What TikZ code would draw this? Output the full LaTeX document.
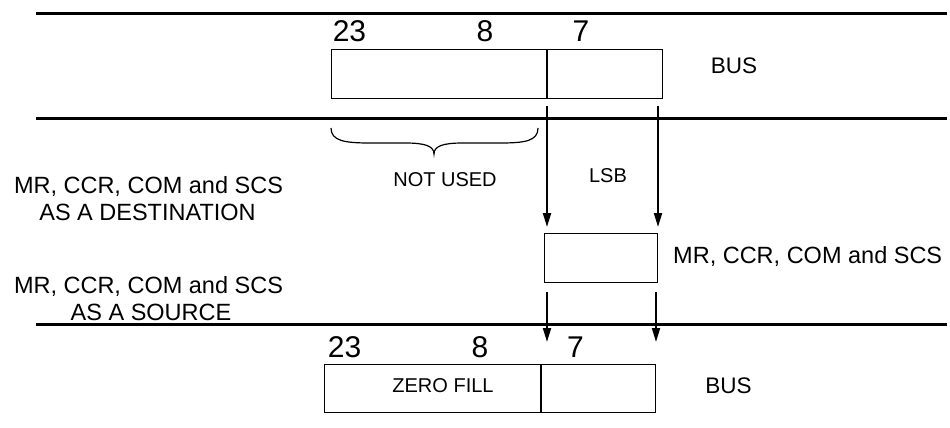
\documentclass[tikz,border=0pt]{standalone}
\usepackage{fontspec}
\setmainfont{Liberation Sans}
\usetikzlibrary{arrows.meta}
\begin{document}
\begin{tikzpicture}[x=1pt,y=-1pt,
  busline/.style={line width=3pt},
  regbox/.style={draw, line width=1.3pt, inner sep=0pt},
  divider/.style={line width=2pt},
  flow/.style={line width=2pt, -{Triangle[length=14pt,width=8pt]}},
  numlbl/.style={anchor=base, inner sep=0pt, font=\fontsize{30}{32}\selectfont},
  biglbl/.style={anchor=base, inner sep=0pt, font=\fontsize{23.5}{27}\selectfont},
  buslbl/.style={anchor=base, inner sep=0pt, font=\fontsize{22.5}{26}\selectfont},
  smalllbl/.style={anchor=base, inner sep=0pt, font=\fontsize{20}{23}\selectfont},
  bracepath/.style={line width=1.2pt}
]
\useasboundingbox (0,0) rectangle (950,428);

% bus lines
\coordinate (l1a) at (36,14);  \coordinate (l1b) at (947,14);
\coordinate (l2a) at (36,118); \coordinate (l2b) at (947,118);
\coordinate (l3a) at (36,324); \coordinate (l3b) at (947,324);
\draw[busline] (l1a) -- (l1b);
\draw[busline] (l2a) -- (l2b);
\draw[busline] (l3a) -- (l3b);

% top register
\node[regbox, minimum width=331pt, minimum height=49pt, anchor=north west] (top) at (331,49) {};
\coordinate (topdivT) at (547,49); \coordinate (topdivB) at (547,98);
\draw[divider] (topdivT) -- (topdivB);
\node[numlbl] (t23) at (349.5,42) {23};
\node[numlbl] (t8) at (485,42) {8};
\node[numlbl] (t7) at (581,42) {7};
\node[buslbl] (tbus) at (734,74) {BUS};

% brace
\coordinate (brL) at (331,128);
\coordinate (brR) at (538,128);
\coordinate (brT) at (434,154);
\draw[bracepath] (brL) .. controls (331,141) and (345,143) .. (370,143)
   -- (405,143) .. controls (425,143) and (434,146) .. (brT)
   .. controls (434,146) and (443,143) .. (463,143)
   -- (500,143) .. controls (525,143) and (538,141) .. (brR);
\node[smalllbl] (notused) at (445,186) {NOT USED};
\node[smalllbl] (lsb) at (608,182) {LSB};

% middle register
\node[regbox, minimum width=113pt, minimum height=49pt, anchor=north west] (mid) at (544,233) {};
\node[biglbl, anchor=base west] (midlbl) at (673,263) {MR, CCR, COM and SCS};

% arrows into middle register
\coordinate (a1s) at (547,106); \coordinate (a1e) at (547,227);
\coordinate (a2s) at (658,106); \coordinate (a2e) at (658,227);
\draw[flow] (a1s) -- (a1e);
\draw[flow] (a2s) -- (a2e);

% arrows out of middle register
\coordinate (b1s) at (547,292); \coordinate (b1e) at (547,342);
\coordinate (b2s) at (656,292); \coordinate (b2e) at (656,342);
\draw[flow] (b1s) -- (b1e);
\draw[flow] (b2s) -- (b2e);

% left labels
\node[biglbl] (dst1) at (148.5,193) {MR, CCR, COM and SCS};
\node[biglbl] (dst2) at (147.5,220) {AS A DESTINATION};
\node[biglbl] (src1) at (148.5,293) {MR, CCR, COM and SCS};
\node[biglbl] (src2) at (151,320) {AS A SOURCE};

% bottom register
\node[regbox, minimum width=331pt, minimum height=48pt, anchor=north west] (bot) at (324,364) {};
\coordinate (botdivT) at (541,364); \coordinate (botdivB) at (541,412);
\draw[divider] (botdivT) -- (botdivB);
\node[numlbl] (b23) at (344.5,357) {23};
\node[numlbl] (b8) at (480,357) {8};
\node[numlbl] (b7) at (575.5,357) {7};
\node[smalllbl] (zero) at (443,392) {ZERO FILL};
\node[buslbl] (bbus) at (728.5,393) {BUS};
\end{tikzpicture}
\end{document}
